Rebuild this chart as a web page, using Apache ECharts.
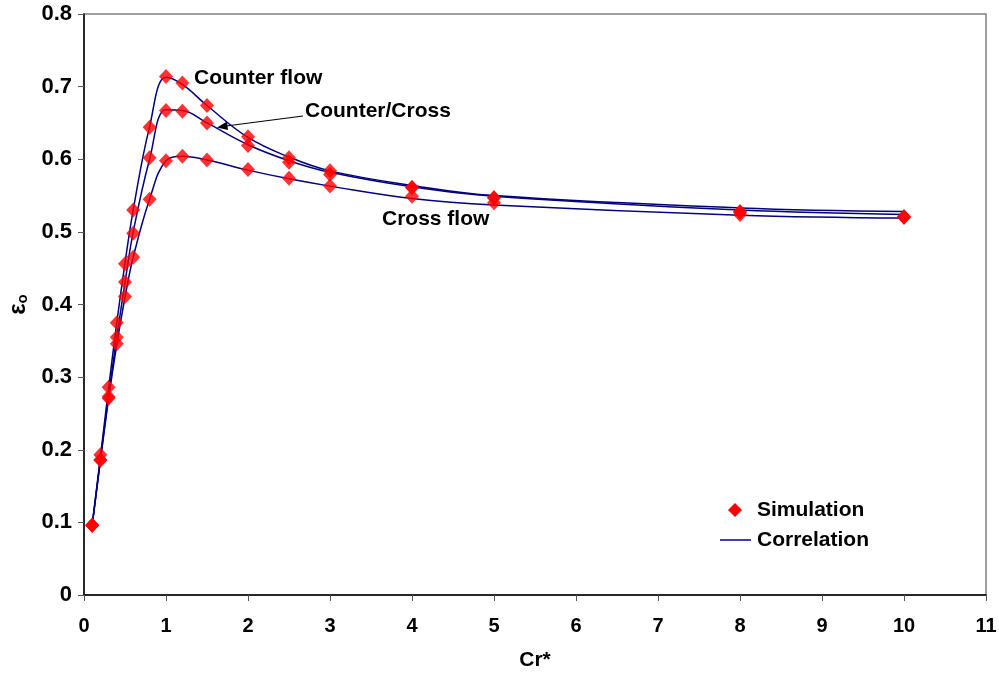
<!DOCTYPE html>
<html>
<head>
<meta charset="utf-8">
<script src="https://cdn.jsdelivr.net/npm/echarts@6/dist/echarts.min.js"></script>
<style>
  html, body { margin: 0; padding: 0; background: #ffffff; }
  #chart { width: 999px; height: 676px; }
</style>
</head>
<body>
<div id="chart"></div>
<script>
// Capacity-rate ratio values (Cr*)
const crValues = [0.1, 0.2, 0.3, 0.4, 0.5, 0.6, 0.8, 1, 1.2, 1.5, 2, 2.5, 3, 4, 5, 8, 10];

// Simulated effectiveness
const simCounter = [0.096, 0.193, 0.286, 0.375, 0.456, 0.530, 0.644, 0.714, 0.705, 0.674, 0.631, 0.602, 0.584, 0.561, 0.547, 0.528, 0.521];
const simCounterCross = [0.096, 0.186, 0.273, 0.355, 0.431, 0.498, 0.602, 0.667, 0.666, 0.650, 0.619, 0.596, 0.579, 0.561, 0.547, 0.527, 0.520];
const simCross = [0.096, 0.186, 0.271, 0.346, 0.411, 0.465, 0.545, 0.598, 0.604, 0.599, 0.586, 0.574, 0.563, 0.549, 0.540, 0.524, 0.520];

// Correlation curves
const corCounter = [0.097, 0.190, 0.285, 0.375, 0.457, 0.530, 0.645, 0.713, 0.703, 0.674, 0.630, 0.603, 0.584, 0.564, 0.550, 0.533, 0.528];
const corCounterCross = [0.096, 0.186, 0.275, 0.355, 0.430, 0.500, 0.600, 0.668, 0.667, 0.650, 0.620, 0.598, 0.582, 0.562, 0.549, 0.530, 0.524];
const corCross = [0.096, 0.185, 0.270, 0.345, 0.410, 0.465, 0.545, 0.598, 0.604, 0.599, 0.585, 0.573, 0.563, 0.546, 0.537, 0.523, 0.519];

const xTicks = { min: 0, max: 11, step: 1 };
const yTicks = { min: 0, max: 0.8, step: 0.1 };

const pair = (ys) => crValues.map((x, i) => [x, ys[i]]);

const FONT = '"Liberation Sans", Arial, sans-serif';
const NAVY = '#000080';
const RED = '#ff0000';

function corrSeries(ys) {
  return {
    name: 'Correlation',
    type: 'line',
    data: pair(ys),
    smooth: 0.4,
    showSymbol: false,
    lineStyle: { color: NAVY, width: 1.5 },
    z: 2,
    silent: true
  };
}
function simSeries(ys) {
  return {
    name: 'Simulation',
    type: 'scatter',
    data: pair(ys),
    symbol: 'diamond',
    symbolSize: [14, 15],
    itemStyle: { color: RED },
    z: 3,
    silent: true
  };
}

const chart = echarts.init(document.getElementById('chart'), null, { renderer: 'canvas' });

function label(text, x, y) {
  return {
    type: 'text', x: x, y: y,
    style: {
      text: text, fill: '#000',
      font: 'bold 21px ' + FONT,
      verticalAlign: 'middle'
    }
  };
}

chart.setOption({
  animation: false,
  backgroundColor: '#ffffff',
  grid: {
    left: 84, right: 13, top: 14, bottom: 81,
    outerBoundsMode: 'none',
    containLabel: false,
    show: true, borderColor: '#808080', borderWidth: 1.5, backgroundColor: 'transparent'
  },
  xAxis: {
    type: 'value',
    min: xTicks.min, max: xTicks.max, interval: xTicks.step,
    name: 'Cr*',
    nameLocation: 'middle',
    nameGap: 55,
    nameTextStyle: { fontFamily: FONT, fontWeight: 'bold', fontSize: 21, color: '#000' },
    axisLine: { lineStyle: { color: '#000', width: 1.5 } },
    axisTick: { show: true, length: 6, lineStyle: { color: '#555' } },
    axisLabel: { fontFamily: FONT, fontWeight: 'bold', fontSize: 20, color: '#000', margin: 21 },
    splitLine: { show: false }
  },
  yAxis: {
    type: 'value',
    min: yTicks.min, max: yTicks.max, interval: yTicks.step,
    name: '{e|ε}{o|o}',
    nameLocation: 'middle',
    nameRotate: 90,
    nameGap: 53,
    nameTextStyle: {
      rich: {
        e: { fontFamily: FONT, fontWeight: 'bold', fontSize: 24, color: '#000' },
        o: { fontFamily: FONT, fontWeight: 'bold', fontSize: 15, color: '#000', padding: [10, 0, 0, 0] }
      }
    },
    axisLine: { show: true, lineStyle: { color: '#000', width: 1.5 } },
    axisTick: { show: true, length: 6, lineStyle: { color: '#555' } },
    axisLabel: {
      fontFamily: FONT, fontWeight: 'bold', fontSize: 22, color: '#000', margin: 12,
      formatter: (v) => String(Math.round(v * 10) / 10)
    },
    splitLine: { show: false }
  },
  series: [
    corrSeries(corCounter),
    corrSeries(corCounterCross),
    corrSeries(corCross),
    simSeries(simCounter),
    simSeries(simCounterCross),
    simSeries(simCross)
  ],
  graphic: [
    // curve labels
    label('Counter flow', 194, 78),
    label('Counter/Cross', 305, 111),
    label('Cross flow', 382, 219),
    // leader arrow for Counter/Cross
    { type: 'line', shape: { x1: 303, y1: 116, x2: 226, y2: 126 }, style: { stroke: '#000', lineWidth: 1.2 } },
    { type: 'polygon', shape: { points: [[217, 127.5], [227, 121.5], [228, 130]] }, style: { fill: '#000' } },
    // legend
    { type: 'polygon', shape: { points: [[735, 503], [742, 510], [735, 517], [728, 510]] }, style: { fill: RED } },
    label('Simulation', 757, 510),
    { type: 'line', shape: { x1: 720, y1: 540, x2: 751, y2: 540 }, style: { stroke: NAVY, lineWidth: 1.5 } },
    label('Correlation', 757, 540)
  ]
});
</script>
</body>
</html>
